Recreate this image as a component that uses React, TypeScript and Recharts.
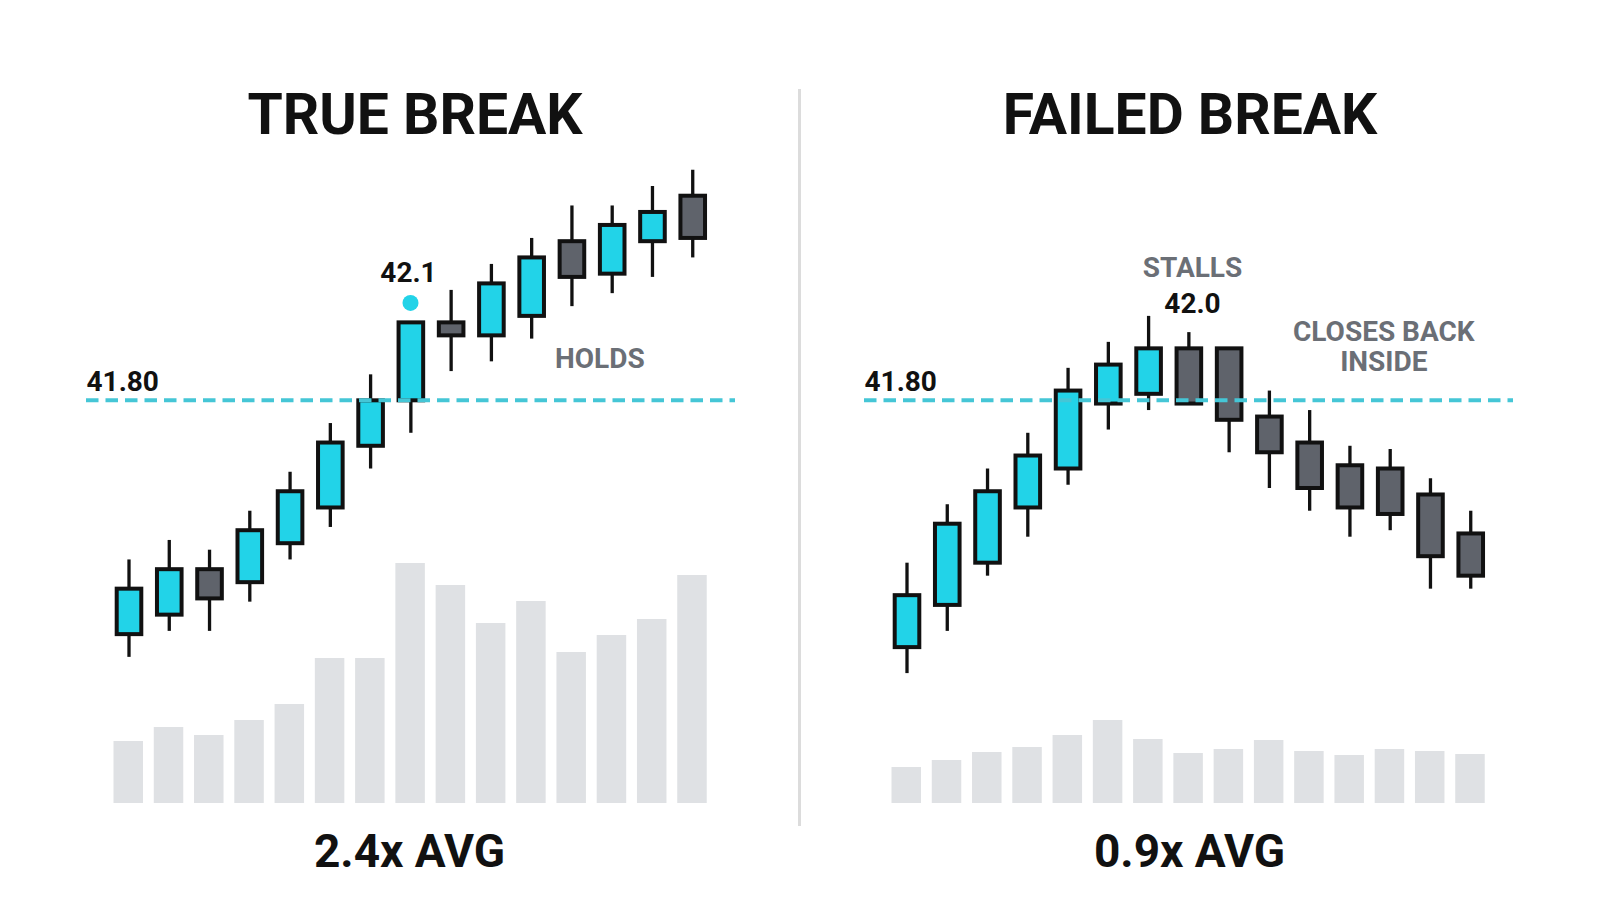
import React from 'react';
import { ComposedChart, Bar, XAxis, YAxis, ReferenceLine, ReferenceDot } from 'recharts';

// ---------- data ----------
const categories = ['1', '2', '3', '4', '5', '6', '7', '8', '9', '10', '11', '12', '13', '14', '15'];

const trueOpen = [41.08, 41.14, 41.28, 41.24, 41.36, 41.47, 41.66, 41.8, 42.04, 42.0, 42.06, 42.29, 42.19, 42.29, 42.43];
const trueHigh = [41.31, 41.37, 41.34, 41.46, 41.58, 41.73, 41.88, 42.04, 42.14, 42.22, 42.3, 42.4, 42.4, 42.46, 42.51];
const trueLow = [41.01, 41.09, 41.09, 41.18, 41.31, 41.41, 41.59, 41.7, 41.89, 41.92, 41.99, 42.09, 42.13, 42.18, 42.24];
const trueClose = [41.22, 41.28, 41.19, 41.4, 41.52, 41.67, 41.8, 42.04, 42.0, 42.16, 42.24, 42.18, 42.34, 42.38, 42.3];
const trueVolume = [62, 76, 68, 83, 99, 145, 145, 240, 218, 180, 202, 151, 168, 184, 228];

const failOpen = [41.04, 41.17, 41.3, 41.47, 41.59, 41.79, 41.82, 41.96, 41.96, 41.75, 41.67, 41.6, 41.59, 41.51, 41.39];
const failHigh = [41.3, 41.48, 41.59, 41.7, 41.9, 41.98, 42.06, 42.01, 41.96, 41.83, 41.77, 41.66, 41.65, 41.56, 41.46];
const failLow = [40.96, 41.09, 41.26, 41.38, 41.54, 41.71, 41.77, 41.79, 41.64, 41.53, 41.46, 41.38, 41.4, 41.22, 41.22];
const failClose = [41.2, 41.42, 41.52, 41.63, 41.83, 41.91, 41.96, 41.79, 41.74, 41.64, 41.53, 41.47, 41.45, 41.32, 41.26];
const failVolume = [36, 43, 51, 56, 68, 83, 64, 50, 54, 63, 52, 48, 54, 52, 49];

const breakoutLevel = 41.8;
const trueBreakHigh = 42.1;
const failBreakHigh = 42.0;

const titles = ['TRUE BREAK', 'FAILED BREAK'];
const volumeLabels = ['2.4x AVG', '0.9x AVG'];

// ---------- styles ----------
const CYAN = '#22d3e8';
const GRAY = '#5f636b';
const INK = '#111111';
const NOTE = '#6b6f76';
const VOL = '#dfe1e4';
const LEVEL = '#45c6d6';
const FONT = 'Roboto, "Noto Sans", sans-serif';

const PRICE_DOMAIN: [number, number] = [40.56, 42.54];
const VOL_DOMAIN: [number, number] = [0, 643];

type Row = { bar: string; open: number; high: number; low: number; close: number; vol: number };

const buildRows = (o: number[], h: number[], l: number[], c: number[], v: number[]): Row[] =>
  categories.map((bar, i) => ({ bar, open: o[i], high: h[i], low: l[i], close: c[i], vol: v[i] }));

const trueRows = buildRows(trueOpen, trueHigh, trueLow, trueClose, trueVolume);
const failRows = buildRows(failOpen, failHigh, failLow, failClose, failVolume);

const Candle = (props: any) => {
  const { x, y, width, height, payload } = props;
  if (x == null || y == null || !payload) return null;
  const top = Math.min(y, y + height);
  const h = Math.abs(height);
  const { open, close, high, low } = payload as Row;
  const span = high - low || 1;
  const py = (p: number) => top + ((high - p) / span) * h;
  const cx = x + width / 2;
  const up = close >= open;
  const bTop = py(Math.max(open, close));
  const bBot = py(Math.min(open, close));
  return (
    <g>
      <line x1={cx} x2={cx} y1={py(high)} y2={py(low)} stroke={INK} strokeWidth={3.3} />
      <rect
        x={cx - 12.3}
        y={bTop}
        width={24.6}
        height={Math.max(bBot - bTop, 1)}
        fill={up ? CYAN : GRAY}
        stroke={INK}
        strokeWidth={4}
      />
    </g>
  );
};

const textLabel =
  (lines: string[], color: string, dx: number, dy: number, size = 28, lineGap = 30) =>
  (props: any) => {
    const vb = props.viewBox || {};
    const cx = (vb.x ?? 0) + (vb.width ?? 0) / 2 + dx;
    const cy = (vb.y ?? 0) + (vb.height ?? 0) / 2 + dy;
    return (
      <text
        x={cx}
        y={cy}
        textAnchor="middle"
        fill={color}
        style={{ fontFamily: FONT, fontWeight: 700, fontSize: size }}
      >
        {lines.map((ln, i) => (
          <tspan key={i} x={cx} y={cy - (lines.length - 1 - i) * lineGap}>
            {ln}
          </tspan>
        ))}
      </text>
    );
  };

const levelLabel = (props: any) => {
  const vb = props.viewBox || {};
  return (
    <text
      x={(vb.x ?? 0) + 0.5}
      y={(vb.y ?? 0) - 9.6}
      textAnchor="start"
      fill={INK}
      style={{ fontFamily: FONT, fontWeight: 700, fontSize: 28 }}
    >
      {breakoutLevel.toFixed(2)}
    </text>
  );
};

const Panel = ({
  rows,
  marginLeft,
  marginRight,
  children,
}: {
  rows: Row[];
  marginLeft: number;
  marginRight: number;
  children?: React.ReactNode;
}) => (
  <ComposedChart
    width={800}
    height={914}
    data={rows}
    margin={{ top: 160, bottom: 111, left: marginLeft, right: marginRight }}
  >
    <XAxis xAxisId="p" dataKey="bar" type="category" hide padding={{ left: 22.5, right: 22.5 }} />
    <XAxis xAxisId="v" dataKey="bar" type="category" hide padding={{ left: 22.5, right: 22.5 }} />
    <YAxis yAxisId="price" type="number" domain={PRICE_DOMAIN} hide allowDataOverflow />
    <YAxis yAxisId="vol" type="number" domain={VOL_DOMAIN} hide allowDataOverflow />
    <Bar xAxisId="v" yAxisId="vol" dataKey="vol" fill={VOL} barSize={29.5} isAnimationActive={false} />
    <ReferenceLine
      xAxisId="p"
      yAxisId="price"
      y={breakoutLevel}
      stroke={LEVEL}
      strokeWidth={4}
      strokeDasharray="12.5 7"
      label={levelLabel}
    />
    <Bar
      xAxisId="p"
      yAxisId="price"
      dataKey={(d: Row) => [d.low, d.high]}
      barSize={29}
      shape={Candle}
      isAnimationActive={false}
    />
    {children}
  </ComposedChart>
);

export default function App() {
  return (
    <div
      style={{
        position: 'fixed',
        left: 0,
        top: 0,
        width: 1600,
        height: 914,
        background: '#ffffff',
        overflow: 'hidden',
      }}
    >
      <svg width={1600} height={914} style={{ position: 'absolute', left: 0, top: 0 }}>
        <line x1={799.5} x2={799.5} y1={89} y2={826} stroke="#dcdcdc" strokeWidth={3} />
        <text x={415} y={134} textAnchor="middle" fill={INK} style={{ fontFamily: FONT, fontWeight: 700, fontSize: 57 }}>
          {titles[0]}
        </text>
        <text x={1190} y={134} textAnchor="middle" fill={INK} style={{ fontFamily: FONT, fontWeight: 700, fontSize: 57 }}>
          {titles[1]}
        </text>
        <text x={409.5} y={866.5} textAnchor="middle" fill={INK} style={{ fontFamily: FONT, fontWeight: 700, fontSize: 46 }}>
          {volumeLabels[0]}
        </text>
        <text x={1189.5} y={866.5} textAnchor="middle" fill={INK} style={{ fontFamily: FONT, fontWeight: 700, fontSize: 46 }}>
          {volumeLabels[1]}
        </text>
      </svg>

      <div style={{ position: 'absolute', left: 0, top: 0 }}>
        <Panel rows={trueRows} marginLeft={86} marginRight={65}>
          <ReferenceDot
            xAxisId="p"
            yAxisId="price"
            x="8"
            y={trueBreakHigh}
            r={8}
            fill={CYAN}
            stroke="none"
            label={textLabel([trueBreakHigh.toFixed(1)], INK, -2, -21.2)}
          />
          <ReferenceDot
            xAxisId="p"
            yAxisId="price"
            x="13"
            y={41.9}
            r={0}
            fill="none"
            stroke="none"
            label={textLabel(['HOLDS'], NOTE, -12, 0)}
          />
        </Panel>
      </div>

      <div style={{ position: 'absolute', left: 800, top: 0 }}>
        <Panel rows={failRows} marginLeft={64} marginRight={87}>
          <ReferenceDot
            xAxisId="p"
            yAxisId="price"
            x="8"
            y={42.18}
            r={0}
            fill="none"
            stroke="none"
            label={textLabel(['STALLS'], NOTE, 4, 0)}
          />
          <ReferenceDot
            xAxisId="p"
            yAxisId="price"
            x="8"
            y={42.07}
            r={0}
            fill="none"
            stroke="none"
            label={textLabel([failBreakHigh.toFixed(1)], INK, 4, 0)}
          />
          <ReferenceDot
            xAxisId="p"
            yAxisId="price"
            x="13"
            y={41.89}
            r={0}
            fill="none"
            stroke="none"
            label={textLabel(['CLOSES BACK', 'INSIDE'], NOTE, -6, 0)}
          />
        </Panel>
      </div>
    </div>
  );
}
